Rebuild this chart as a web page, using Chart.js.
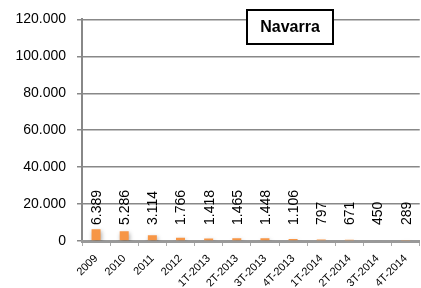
<!DOCTYPE html>
<html>
<head>
<meta charset="utf-8">
<script src="https://cdn.jsdelivr.net/npm/chart.js@4/dist/chart.umd.min.js"></script>
<style>
  html, body { margin: 0; padding: 0; background: #fff; }
  #wrap { width: 421px; height: 288px; }
</style>
</head>
<body>
<div id="wrap"><canvas id="graph"></canvas></div>
<script>
// categories and values
var periods = ['2009', '2010', '2011', '2012', '1T-2013', '2T-2013', '3T-2013', '4T-2013', '1T-2014', '2T-2014', '3T-2014', '4T-2014']
var values = [6389, 5286, 3114, 1766, 1418, 1465, 1448, 1106, 797, 671, 450, 289]
var valueLabels = ['6.389', '5.286', '3.114', '1.766', '1.418', '1.465', '1.448', '1.106', '797', '671', '450', '289']
var yTicks = [0, 20000, 40000, 60000, 80000, 100000, 120000]
var title = 'Navarra'

function fmt(v) {
    return v === 0 ? '0' : (v / 1000).toFixed(0) + '.000'
}

// soft shadow under the bars, like the original
var shadow = {
    id: 'shadow',
    beforeDatasetsDraw: function(chart) {
        var ctx = chart.ctx
        ctx.save()
        ctx.shadowColor = 'rgba(0,0,0,0.35)'
        ctx.shadowBlur = 4
        ctx.shadowOffsetX = 1
        ctx.shadowOffsetY = 2
    },
    afterDatasetsDraw: function(chart) {
        chart.ctx.restore()
    }
}

// vertical labels above bars + boxed title
var extras = {
    id: 'extras',
    afterDraw: function(chart) {
        var ctx = chart.ctx
        var meta = chart.getDatasetMeta(0)
        var y0 = chart.scales.y.getPixelForValue(0)
        ctx.save()
        ctx.fillStyle = '#000'
        ctx.font = '14px "Liberation Sans", Arial, sans-serif'
        ctx.textAlign = 'left'
        ctx.textBaseline = 'middle'
        meta.data.forEach(function(bar, i) {
            ctx.save()
            ctx.translate(bar.x + 1, y0 - 16)
            ctx.rotate(-Math.PI / 2)
            ctx.fillText(valueLabels[i], 0, 0)
            ctx.restore()
        })
        // title box
        ctx.font = 'bold 16px "Liberation Sans", Arial, sans-serif'
        ctx.fillStyle = '#fff'
        ctx.fillRect(247, 10, 86, 34)
        ctx.strokeStyle = '#000'
        ctx.lineWidth = 2
        ctx.strokeRect(247, 10, 86, 34)
        ctx.fillStyle = '#000'
        ctx.textAlign = 'center'
        ctx.fillText(title, 290, 28)
        ctx.restore()
    }
}

var config = {
    type: 'bar',
    data: {
        labels: periods,
        datasets: [{
            data: values,
            backgroundColor: '#F79646',
            borderWidth: 0,
            barPercentage: 0.32,
            categoryPercentage: 1.0,
        }],
    },
    options: {
        responsive: true,
        maintainAspectRatio: false,
        animation: false,
        layout: {
            padding: { top: 15, right: 0, left: 0, bottom: 0 }
        },
        plugins: {
            legend: false,
            tooltip: { enabled: false }
        },
        scales: {
            y: {
                min: 0,
                max: 120000,
                afterBuildTicks: function(axis) {
                    axis.ticks = yTicks.map(function(v) { return { value: v } })
                },
                afterFit: function(axis) { axis.width = 82 },
                ticks: {
                    color: '#000',
                    padding: 11,
                    font: { family: '"Liberation Sans", Arial, sans-serif', size: 14 },
                    callback: function(v) { return fmt(v) }
                },
                grid: { color: '#888', lineWidth: 1.5, tickLength: 5 },
                border: { color: '#888', width: 2 }
            },
            x: {
                afterFit: function(axis) { axis.height = 47 },
                ticks: {
                    color: '#000',
                    minRotation: 45,
                    maxRotation: 45,
                    padding: 6,
                    font: { family: '"Liberation Sans", Arial, sans-serif', size: 11 }
                },
                grid: { drawOnChartArea: false, color: '#aaa', tickLength: 5, offset: true },
                border: { color: '#999', width: 3 }
            }
        }
    },
    plugins: [shadow, extras]
}

const ctx = document.getElementById('graph').getContext('2d')
new Chart(ctx, config)
</script>
</body>
</html>
